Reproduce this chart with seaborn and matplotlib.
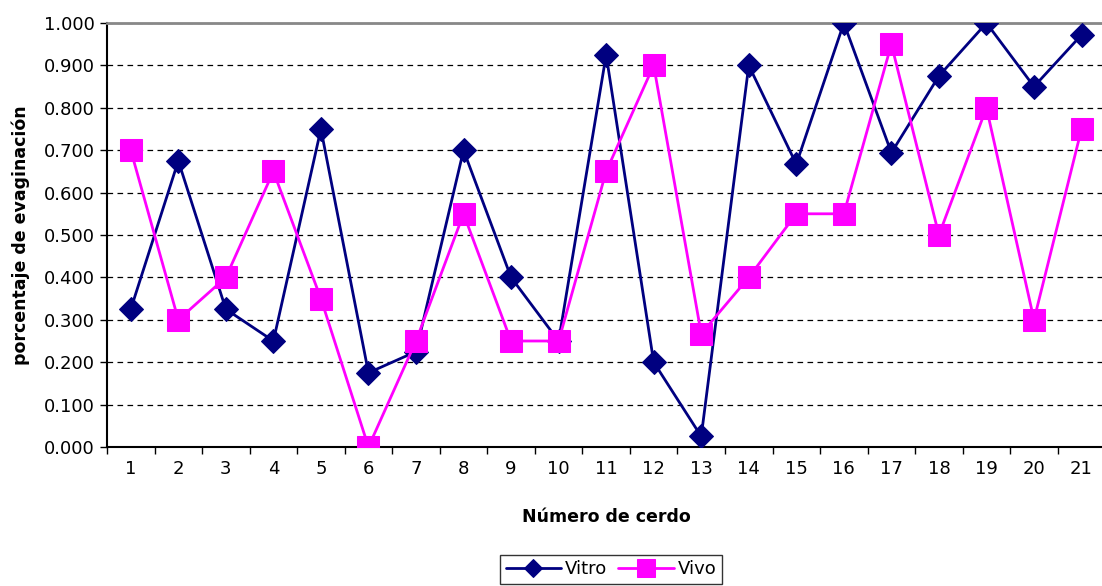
import numpy as np
import pandas as pd
import matplotlib
matplotlib.use('Agg')
import matplotlib.pyplot as plt
import seaborn as sns

# data
cerdo = list(range(1, 22))
vitro = [0.325, 0.675, 0.325, 0.250, 0.750, 0.175, 0.225, 0.700, 0.400, 0.250, 0.925,
         0.200, 0.025, 0.900, 0.667, 1.000, 0.694, 0.875, 1.000, 0.850, 0.972]
vivo = [0.700, 0.300, 0.400, 0.650, 0.350, 0.000, 0.250, 0.550, 0.250, 0.250, 0.650,
        0.900, 0.267, 0.400, 0.550, 0.550, 0.950, 0.500, 0.800, 0.300, 0.750]
y_ticks = [0.0, 0.1, 0.2, 0.3, 0.4, 0.5, 0.6, 0.7, 0.8, 0.9, 1.0]

sns.set_style('white')
plt.rcParams['font.family'] = ['DejaVu Sans']
plt.rcParams['text.color'] = 'black'
plt.rcParams['axes.labelcolor'] = 'black'
plt.rcParams['xtick.color'] = 'black'
plt.rcParams['ytick.color'] = 'black'

fig = plt.figure(figsize=(11.02, 5.86), dpi=100)
ax = fig.add_axes([107 / 1102, 1 - 447 / 586, 1.0 - 107 / 1102 + 0.003, (447 - 23) / 586])

df = pd.DataFrame({'cerdo': cerdo, 'Vitro': vitro, 'Vivo': vivo})

sns.lineplot(data=df, x='cerdo', y='Vitro', ax=ax, color='#000080', lw=2,
             marker='D', markersize=12, markeredgecolor='#000080', label='Vitro', zorder=3)
sns.lineplot(data=df, x='cerdo', y='Vivo', ax=ax, color='#FF00FF', lw=2,
             marker='s', markersize=16, markeredgecolor='#FF00FF', label='Vivo', zorder=3)

ax.set_xlim(0.5, 21.5)
ax.set_ylim(0, 1.0)
ax.set_yticks(y_ticks)
ax.set_yticklabels([f'{v:.3f}' for v in y_ticks], fontsize=13)
ax.set_xticks(cerdo)
ax.set_xticklabels([str(c) for c in cerdo], fontsize=13)
ax.set_xticks(np.arange(0.5, 22, 1.0), minor=True)
ax.tick_params(axis='x', which='major', length=0, pad=9)
ax.tick_params(axis='x', which='minor', length=5, width=1, color='black', direction='out', bottom=True)
ax.tick_params(axis='y', length=5, width=1, color='black', direction='out', left=True, pad=4)

ax.yaxis.grid(True, color='black', linestyle=(0, (4.5, 3.5)), lw=0.9)
ax.xaxis.grid(False)
ax.set_axisbelow(True)

for side in ['left', 'bottom']:
    ax.spines[side].set_color('black')
    ax.spines[side].set_linewidth(1.5)
ax.spines['top'].set_color('#888888')
ax.spines['top'].set_linewidth(2)
ax.spines['right'].set_visible(False)

ax.set_xlabel('Número de cerdo', fontsize=12.5, fontweight='bold', labelpad=22)
ax.set_ylabel('porcentaje de evaginación', fontsize=12.5, fontweight='bold', labelpad=10)

leg = ax.legend(loc='upper center', bbox_to_anchor=(611 / 1102, 1 - 555 / 586),
                bbox_transform=fig.transFigure, ncol=2, fontsize=13, frameon=True,
                fancybox=False, edgecolor='black', borderpad=0.3, borderaxespad=0,
                columnspacing=0.6, handlelength=3.1, handletextpad=0.2, markerscale=0.8)
leg.get_frame().set_linewidth(1)

fig.savefig('out.png', dpi=100)
